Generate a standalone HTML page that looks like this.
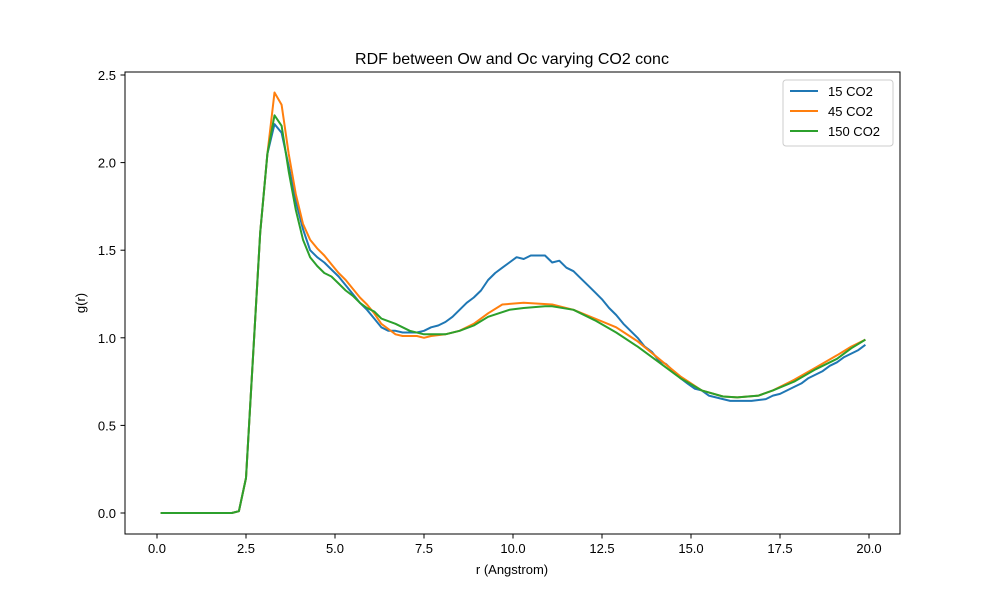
<!DOCTYPE html>
<html><head><meta charset="utf-8"><style>body{margin:0;background:#fff}svg{display:block;font-family:"Liberation Sans","DejaVu Sans",sans-serif}</style></head>
<body>
<svg id="s" width="1000" height="600" viewBox="0 0 1000 600">
<rect width="1000" height="600" fill="#fff"/>
<text x="512" y="64" font-size="16" text-anchor="middle">RDF between Ow and Oc varying CO2 conc</text>
<g id="plot"></g>
<rect x="125" y="72" width="775" height="462" fill="none" stroke="#000" stroke-width="1"/>
<g id="ticks" font-size="13"></g>
<text x="512" y="574" font-size="13" text-anchor="middle">r (Angstrom)</text>
<text transform="translate(85,303) rotate(-90)" font-size="13" text-anchor="middle">g(r)</text>
<g>
<rect x="783" y="80" width="110" height="66" rx="3" fill="#fff" stroke="#ccc"/>
<line x1="790" y1="91" x2="818" y2="91" stroke="#1f77b4" stroke-width="2"/>
<text x="828" y="96" font-size="13">15 CO2</text>
<line x1="790" y1="111" x2="818" y2="111" stroke="#ff7f0e" stroke-width="2"/>
<text x="828" y="116" font-size="13">45 CO2</text>
<line x1="790" y1="131" x2="818" y2="131" stroke="#2ca02c" stroke-width="2"/>
<text x="828" y="136" font-size="13">150 CO2</text>
</g>
</svg>
<script>
const X=r=>157+35.6*r, Y=g=>513-175.2*g;
const NS="http://www.w3.org/2000/svg";
const tk=document.getElementById('ticks');
function el(t,a,p){const e=document.createElementNS(NS,t);for(const k in a)e.setAttribute(k,a[k]);p.appendChild(e);return e;}
for(let v=0;v<=20;v+=2.5){const x=X(v);el('line',{x1:x,x2:x,y1:534,y2:538.5,stroke:'#000'},tk);el('text',{x:x,y:553,'text-anchor':'middle'},tk).textContent=v.toFixed(1);}
for(let v=0;v<=2.5;v+=0.5){const y=Y(v);el('line',{x1:120.5,x2:125,y1:y,y2:y,stroke:'#000'},tk);el('text',{x:116,y:y+5,'text-anchor':'end'},tk).textContent=v.toFixed(1);}
const base=[[0.1,0],[2.1,0],[2.3,0.01],[2.5,0.2],[2.7,0.9],[2.9,1.6],[3.1,2.05]];
const s1=base.concat([[3.3,2.22],[3.5,2.17],[3.7,1.98],[3.9,1.78],[4.1,1.62],[4.3,1.5],[4.5,1.46],[4.7,1.43],[4.9,1.39],[5.1,1.35],[5.3,1.3],[5.5,1.25],[5.7,1.2],[5.9,1.16],[6.1,1.11],[6.3,1.06],[6.5,1.04],[6.7,1.04],[6.9,1.03],[7.1,1.03],[7.3,1.03],[7.5,1.04],[7.7,1.06],[7.9,1.07],[8.1,1.09],[8.3,1.12],[8.5,1.16],[8.7,1.2],[8.9,1.23],[9.1,1.27],[9.3,1.33],[9.5,1.37],[9.7,1.4],[9.9,1.43],[10.1,1.46],[10.3,1.45],[10.5,1.47],[10.7,1.47],[10.9,1.47],[11.1,1.43],[11.3,1.44],[11.5,1.4],[11.7,1.38],[11.9,1.34],[12.1,1.3],[12.3,1.26],[12.5,1.22],[12.7,1.17],[12.9,1.13],[13.1,1.08],[13.3,1.04],[13.5,1.0],[13.7,0.95],[13.9,0.92],[14.1,0.87],[14.3,0.85],[14.5,0.81],[14.7,0.77],[14.9,0.74],[15.1,0.71],[15.3,0.7],[15.5,0.67],[15.7,0.66],[15.9,0.65],[16.1,0.64],[16.3,0.64],[16.5,0.64],[16.7,0.64],[16.9,0.645],[17.1,0.65],[17.3,0.67],[17.5,0.68],[17.7,0.7],[17.9,0.72],[18.1,0.74],[18.3,0.77],[18.5,0.79],[18.7,0.81],[18.9,0.84],[19.1,0.86],[19.3,0.89],[19.5,0.91],[19.7,0.93],[19.9,0.96]]);
const s2=base.concat([[3.3,2.4],[3.5,2.33],[3.7,2.05],[3.9,1.82],[4.1,1.65],[4.3,1.56],[4.5,1.51],[4.7,1.47],[4.9,1.42],[5.1,1.37],[5.3,1.33],[5.5,1.28],[5.7,1.23],[5.9,1.19],[6.1,1.14],[6.3,1.08],[6.5,1.05],[6.7,1.02],[6.9,1.01],[7.3,1.01],[7.5,1.0],[7.7,1.01],[8.1,1.02],[8.5,1.04],[8.9,1.08],[9.3,1.14],[9.7,1.19],[10.3,1.2],[11.1,1.19],[11.7,1.16],[12.3,1.11],[12.9,1.06],[13.5,0.98],[14.1,0.88],[14.7,0.78],[15.3,0.7],[15.9,0.665],[16.3,0.66],[16.9,0.67],[17.3,0.7],[17.9,0.76],[18.5,0.83],[19.1,0.9],[19.5,0.95],[19.9,0.99]]);
const s3=base.concat([[3.3,2.27],[3.5,2.21],[3.7,1.95],[3.9,1.73],[4.1,1.56],[4.3,1.46],[4.5,1.41],[4.7,1.37],[4.9,1.35],[5.1,1.31],[5.3,1.27],[5.5,1.24],[5.7,1.2],[5.9,1.17],[6.1,1.15],[6.3,1.11],[6.7,1.08],[7.1,1.04],[7.5,1.02],[8.1,1.02],[8.5,1.04],[8.9,1.07],[9.3,1.12],[9.9,1.16],[10.3,1.17],[10.9,1.18],[11.1,1.18],[11.7,1.16],[12.3,1.1],[12.9,1.03],[13.5,0.95],[14.1,0.86],[14.7,0.77],[15.3,0.7],[15.9,0.665],[16.3,0.66],[16.9,0.67],[17.3,0.7],[17.9,0.75],[18.5,0.82],[19.1,0.88],[19.5,0.94],[19.9,0.99]]);
const pl=document.getElementById('plot');
[[s1,'#1f77b4'],[s2,'#ff7f0e'],[s3,'#2ca02c']].forEach(([s,c])=>{el('polyline',{points:s.map(p=>X(p[0]).toFixed(1)+','+Y(p[1]).toFixed(1)).join(' '),fill:'none',stroke:c,'stroke-width':2,'stroke-linejoin':'round'},pl);});
</script>
</body></html>
